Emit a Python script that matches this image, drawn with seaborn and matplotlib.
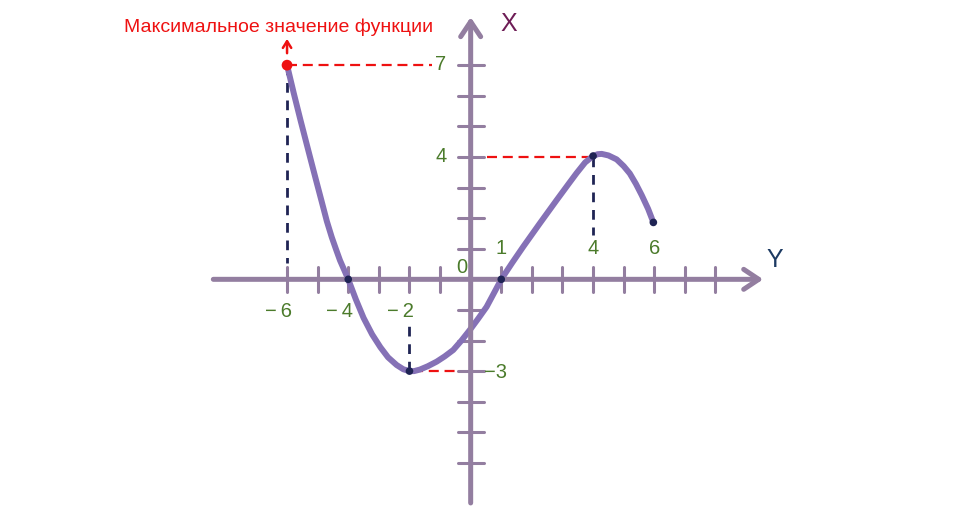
import numpy as np
import pandas as pd
import seaborn as sns
import matplotlib.pyplot as plt

# Curve of the function
curve_x = [-6, -5.78, -5.56, -5.4, -5.25, -5.06, -4.87, -4.7, -4.54, -4.4, -4.27,
           -4.13, -4.0, -3.75, -3.5, -3.22, -2.95, -2.7, -2.42, -2.2, -2.0, -1.85,
           -1.66, -1.4, -1.11, -0.85, -0.57, -0.3, 0, 0.25, 0.52, 0.75, 1.0, 1.35,
           1.72, 2.26, 2.81, 3.2, 3.46, 3.74, 4.0, 4.15, 4.28, 4.5, 4.77, 5.0, 5.2,
           5.4, 5.59, 5.8, 5.97]
curve_y = [7, 6.08, 5.2, 4.58, 4.0, 3.27, 2.55, 1.9, 1.38, 0.98, 0.62,
           0.3, 0, -0.66, -1.26, -1.8, -2.22, -2.55, -2.8, -2.94, -3.0, -3.0,
           -2.95, -2.84, -2.69, -2.52, -2.31, -2.0, -1.62, -1.28, -0.9, -0.47, 0, 0.53,
           1.07, 1.83, 2.59, 3.12, 3.47, 3.82, 4.03, 4.09, 4.1, 4.05, 3.92, 3.7, 3.46,
           3.12, 2.75, 2.3, 1.86]

# Marked points
key_x = [-4, -2, 1, 4, 5.97]
key_y = [0, -3, 0, 4.03, 1.86]
max_x, max_y = -6, 7

# Axis ticks and labels
x_ticks = [-6, -5, -4, -3, -2, -1, 1, 2, 3, 4, 5, 6, 7, 8]
y_ticks = [-6, -5, -4, -3, -2, -1, 1, 2, 3, 4, 5, 6, 7]
below_labels = ["\u2212\u20096", "\u2212\u20094", "\u2212\u20092"]
below_pos = [-6, -4, -2]
above_labels = ["1", "4", "6"]
above_pos = [1, 4, 6]

title = "Максимальное значение функции"

axis_col = "#937ea0"
curve_col = "#8571b6"
green = "#4b7b2b"
navy = "#1f2454"
red = "#ee1111"

sns.set_theme(style="white")
plt.rcParams["font.family"] = ["Liberation Sans", "DejaVu Sans"]

fig = plt.figure(figsize=(9.75, 5.25), dpi=100)
ax = fig.add_axes([0, 0, 1, 1])
ax.set_xlim(-15.38, 16.48)
ax.set_ylim(-8.03, 9.13)
ax.axis("off")

# axes with arrows
ax.annotate("", xy=(9.65, 0), xytext=(-8.5, 0),
            arrowprops=dict(arrowstyle="->,head_length=0.9,head_width=0.6",
                            color=axis_col, lw=3.6, capstyle="round"))
ax.annotate("", xy=(0, 8.66), xytext=(0, -7.4),
            arrowprops=dict(arrowstyle="->,head_length=0.9,head_width=0.6",
                            color=axis_col, lw=3.6, capstyle="round"))
for t in x_ticks:
    ax.plot([t, t], [-0.41, 0.41], color=axis_col, lw=2.2, zorder=1)
for t in y_ticks:
    ax.plot([-0.42, 0.42], [t, t], color=axis_col, lw=2.2, zorder=1)

# guide lines
ax.plot([-6, -1.26], [7, 7], color=red, lw=1.6, dashes=(4.5, 2.6))
ax.plot([0.52, 4], [4, 4], color=red, lw=1.6, dashes=(4.5, 2.6))
ax.plot([-1.9, -0.4], [-3, -3], color=red, lw=1.6, dashes=(4.5, 2.6))
ax.plot([-6, -6], [7, 0.55], color=navy, lw=2.0, dashes=(3.5, 2.8))
ax.plot([-2, -2], [-3, -1.35], color=navy, lw=2.0, dashes=(3.5, 2.8))
ax.plot([4, 4], [4, 1.45], color=navy, lw=2.0, dashes=(3.5, 2.8))

# function curve
df = pd.DataFrame({"x": curve_x, "y": curve_y})
sns.lineplot(data=df, x="x", y="y", sort=False, estimator=None, ax=ax,
             color=curve_col, lw=4.3, solid_capstyle="round", solid_joinstyle="round")
ax.set_xlabel("")
ax.set_ylabel("")
sns.scatterplot(x=key_x, y=key_y, ax=ax, color=navy, s=30, edgecolor="none", zorder=5)
sns.scatterplot(x=[max_x], y=[max_y], ax=ax, color=red, s=60, edgecolor="none", zorder=5)

# arrow to title
ax.annotate("", xy=(max_x, 7.95), xytext=(max_x, 7.3),
            arrowprops=dict(arrowstyle="->,head_length=0.4,head_width=0.25",
                            color=red, lw=1.8))
ax.text(-6.29, 8.25, title, color=red, fontsize=14, ha="center", va="center")

# tick labels
fs = 14.5
for lab, p in zip(below_labels, below_pos):
    ax.text(p - 0.28, -1.05, lab, color=green, fontsize=fs, ha="center", va="center")
for lab, p in zip(above_labels, above_pos):
    ax.text(p, 1.0, lab, color=green, fontsize=fs, ha="center", va="center")
ax.text(-0.3, 0.38, "0", color=green, fontsize=fs, ha="center", va="center")
ax.text(-1.0, 7.03, "7", color=green, fontsize=fs, ha="center", va="center")
ax.text(-0.97, 4.0, "4", color=green, fontsize=fs, ha="center", va="center")
ax.text(0.42, -3.05, "\u22123", color=green, fontsize=fs, ha="left", va="center")

ax.text(1.23, 8.35, "X", color="#6e1d56", fontsize=18, ha="center", va="center")
ax.text(9.95, 0.63, "Y", color="#1c3a62", fontsize=18, ha="center", va="center")

fig.savefig("out.png", dpi=100)
